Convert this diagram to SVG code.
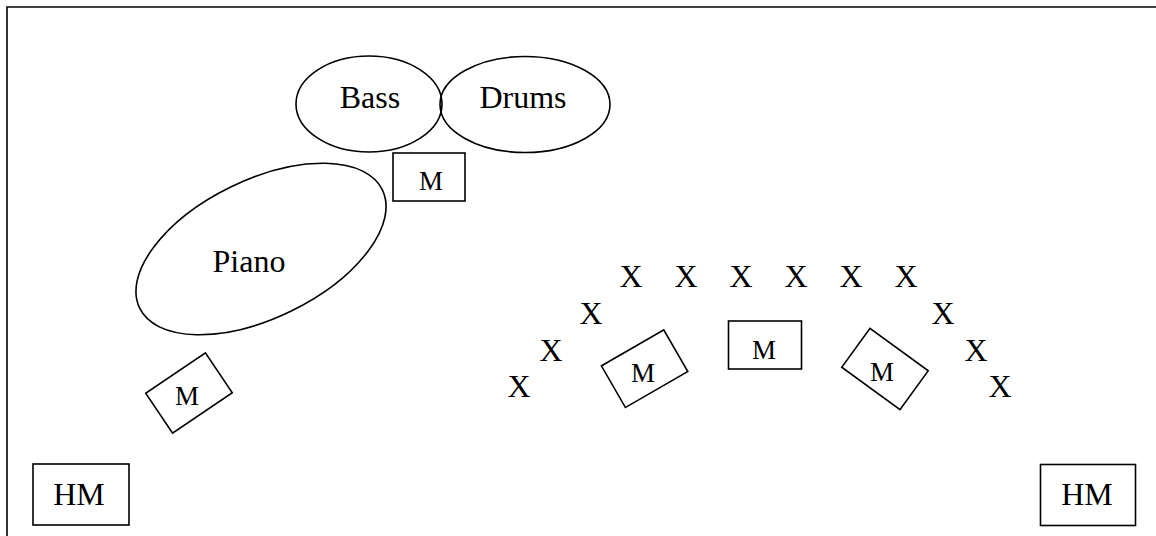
<svg xmlns="http://www.w3.org/2000/svg" width="1156" height="536" viewBox="0 0 1156 536">
<style>
.s{fill:none;stroke:#000;stroke-width:1.6}
text{font-family:'Liberation Serif','Times New Roman','DejaVu Serif',serif;fill:#000;text-anchor:middle}
.t{font-size:32px}
.m{font-size:27px}
</style>
<rect width="1156" height="536" fill="#fff"/>
<g id="frame">
<path class="s" d="M7,536 V7 H1156" stroke-width="2"/>
</g>
<g id="bass"><ellipse class="s" cx="369" cy="104" rx="73" ry="48"/><text class="t" x="370" y="108" font-family="Liberation Serif, serif">Bass</text></g>
<g id="drums"><ellipse class="s" cx="525" cy="104.5" rx="85" ry="48"/><text class="t" x="523" y="108" font-family="Liberation Serif, serif">Drums</text></g>
<g id="piano"><ellipse class="s" cx="261" cy="249" rx="135" ry="69" transform="rotate(-26 261 249)"/><text class="t" x="249" y="272" font-family="Liberation Serif, serif">Piano</text></g>
<g id="mic-top"><rect class="s" x="393" y="153" width="72" height="48"/><text class="m" x="431" y="190">M</text></g>
<g id="mic-left"><rect class="s" x="153" y="369" width="72" height="48" transform="rotate(-34 189 393)"/><text class="m" x="187" y="405">M</text></g>
<g id="mic-c1"><rect class="s" x="608.6" y="344.7" width="72" height="48" transform="rotate(-30 644.6 368.7)"/><text class="m" x="643" y="382">M</text></g>
<g id="mic-c2"><rect class="s" x="728.5" y="321" width="73" height="48"/><text class="m" x="764" y="359">M</text></g>
<g id="mic-c3"><rect class="s" x="849" y="345" width="72" height="48" transform="rotate(36 885 369)"/><text class="m" x="882" y="381">M</text></g>
<g id="hm-left"><rect class="s" x="33" y="464" width="96" height="61"/><text class="t" x="79" y="505">HM</text></g>
<g id="hm-right"><rect class="s" x="1040.5" y="464.5" width="95" height="61"/><text class="t" x="1087" y="505">HM</text></g>
<g id="singers">
<text class="t" x="631" y="287">X</text>
<text class="t" x="686" y="287">X</text>
<text class="t" x="741" y="287">X</text>
<text class="t" x="796" y="287">X</text>
<text class="t" x="851" y="287">X</text>
<text class="t" x="906" y="287">X</text>
<text class="t" x="591" y="324">X</text>
<text class="t" x="551" y="361">X</text>
<text class="t" x="519" y="397">X</text>
<text class="t" x="943" y="324">X</text>
<text class="t" x="976" y="361">X</text>
<text class="t" x="1000" y="397">X</text>
</g>
<g id="connectors"></g>
</svg>
